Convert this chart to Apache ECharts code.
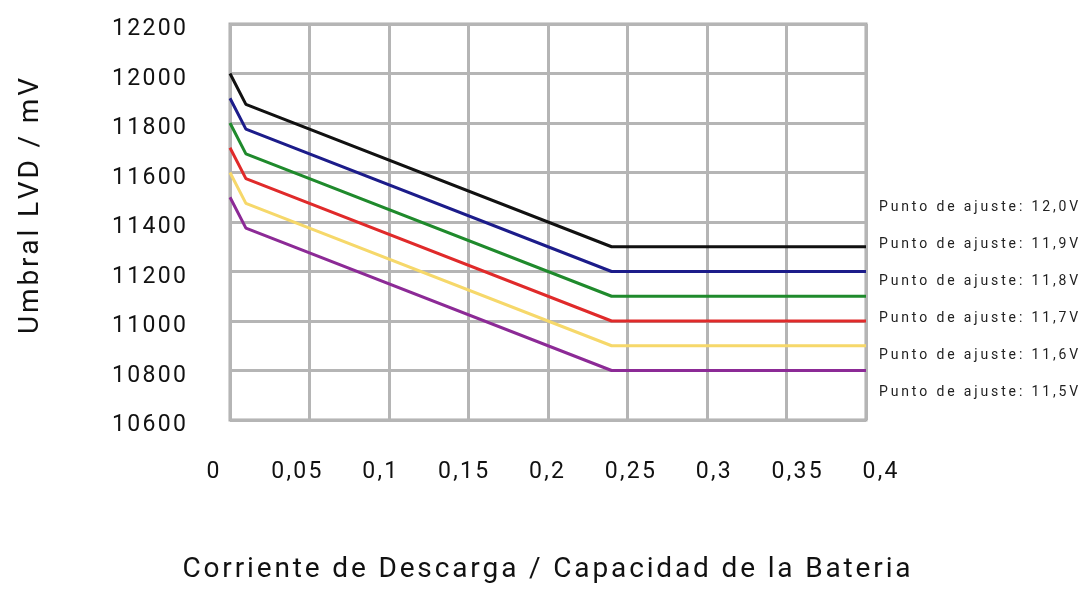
<!DOCTYPE html>
<html>
<head>
<meta charset="utf-8">
<script src="https://cdn.jsdelivr.net/npm/echarts@6/dist/echarts.min.js"></script>
<style>html,body{margin:0;padding:0;background:#fff;}#c{width:1087px;height:590px;}</style>
</head>
<body>
<div id="c"></div>
<script>
// ---- data ----
var xValues = [0, 0.01, 0.24, 0.4];
var s120 = [12000, 11875, 11300, 11300];
var s119 = [11900, 11775, 11200, 11200];
var s118 = [11800, 11675, 11100, 11100];
var s117 = [11700, 11575, 11000, 11000];
var s116 = [11600, 11475, 10900, 10900];
var s115 = [11500, 11375, 10800, 10800];
var seriesNames = ['Punto de ajuste: 12,0V','Punto de ajuste: 11,9V','Punto de ajuste: 11,8V','Punto de ajuste: 11,7V','Punto de ajuste: 11,6V','Punto de ajuste: 11,5V'];
var xTickLabels = ['0','0,05','0,1','0,15','0,2','0,25','0,3','0,35','0,4'];
var yTickLabels = ['10600','10800','11000','11200','11400','11600','11800','12000','12200'];
var xTitle = 'Corriente de Descarga / Capacidad de la Bateria';
var yTitle = 'Umbral LVD / mV';

var seriesData = [s120, s119, s118, s117, s116, s115];
var colors = ['#111111', '#1c1c8a', '#1f8a2c', '#e02a2a', '#f6d86a', '#8c2a96'];

var FONT = 'Roboto, "Open Sans", sans-serif';
function spaced(s, sp) { return s.split('').join(sp); }

var chart = echarts.init(document.getElementById('c'), null, {renderer: 'canvas'});

var series = seriesData.map(function (arr, i) {
  return {
    name: seriesNames[i],
    type: 'line',
    xAxisIndex: 0, yAxisIndex: 0,
    symbol: 'none',
    color: colors[i],
    lineStyle: {width: 3, color: colors[i]},
    data: arr.map(function (v, j) { return [xValues[j], v]; }),
    z: 5
  };
});

var option = {
  backgroundColor: '#fff',
  animation: false,
  grid: [
    {left: 230, right: 221, top: 24, bottom: 170, show: true, borderColor: '#ababab', borderWidth: 3,
     backgroundColor: 'transparent', containLabel: false, outerBoundsMode: 'none'},
    {left: 213, right: 207, top: -8, bottom: 170, show: false, containLabel: false, outerBoundsMode: 'none'}
  ],
  legend: {
    orient: 'vertical',
    left: 869, top: 192,
    icon: 'none',
    itemWidth: 0, itemHeight: 0,
    itemGap: 17,
    selectedMode: false,
    data: seriesNames,
    formatter: function (n) { return spaced(n, '\u2009'); },
    textStyle: {fontFamily: FONT, fontSize: 14, color: '#222', lineHeight: 20}
  },
  xAxis: [
    {
      type: 'value', gridIndex: 0, min: 0, max: 0.4, interval: 0.05,
      axisLine: {show: false}, axisTick: {show: false}, axisLabel: {show: false},
      splitLine: {show: true, lineStyle: {color: '#b5b5b5', width: 3}}
    },
    {
      type: 'value', gridIndex: 1, min: 0, max: 0.4, interval: 0.05,
      name: spaced(xTitle, '\u200a'), nameLocation: 'middle', nameGap: 136,
      nameTextStyle: {fontFamily: FONT, fontSize: 28, color: '#111'},
      axisLine: {show: false}, axisTick: {show: false}, splitLine: {show: false},
      axisLabel: {
        margin: 41, fontFamily: FONT, fontSize: 23, color: '#111',
        formatter: function (v) { return spaced(xTickLabels[Math.round(v / 0.05)] || '', '\u200a'); }
      }
    }
  ],
  yAxis: [
    {
      type: 'value', gridIndex: 0, min: 10600, max: 12200, interval: 200,
      axisLine: {show: false}, axisTick: {show: false},
      splitLine: {show: true, lineStyle: {color: '#b5b5b5', width: 3}},
      axisLabel: {
        margin: 44, fontFamily: FONT, fontSize: 23, color: '#111', verticalAlign: 'top', padding: [-6, 0, 0, 0],
        formatter: function (v) { return spaced(yTickLabels[Math.round((v - 10600) / 200)] || '', '\u200a'); }
      }
    },
    {
      type: 'value', gridIndex: 1, min: 0, max: 1,
      axisLine: {show: false}, axisTick: {show: false}, axisLabel: {show: false}, splitLine: {show: false},
      name: spaced(yTitle, '\u200a'), nameLocation: 'middle', nameGap: 168, nameRotate: 90,
      nameTextStyle: {fontFamily: FONT, fontSize: 28, color: '#111'}
    }
  ],
  series: series
};
chart.setOption(option);
</script>
</body>
</html>
